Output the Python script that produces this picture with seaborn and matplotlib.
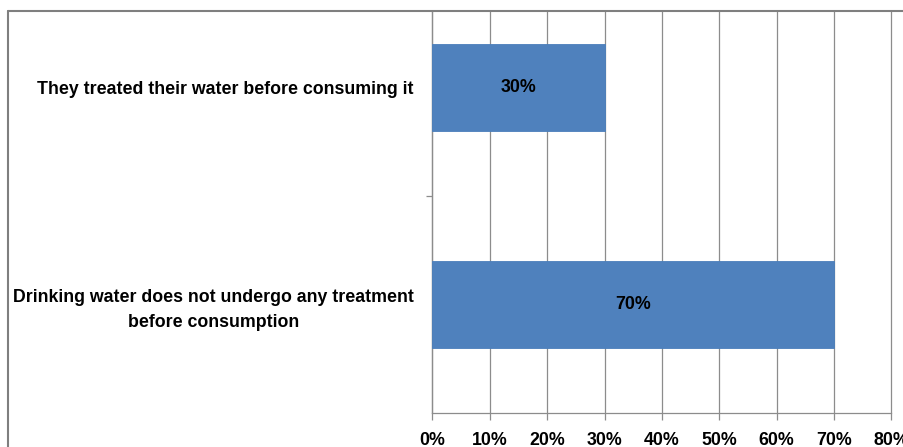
import matplotlib
matplotlib.use("Agg")
import matplotlib.pyplot as plt
from matplotlib.lines import Line2D
from matplotlib.ticker import FixedLocator, FuncFormatter
import seaborn as sns
import pandas as pd

categories = [
    "They treated their water before consuming it",
    "Drinking water does not undergo any treatment\nbefore consumption",
]
shares = [30, 70]
x_ticks = [0, 10, 20, 30, 40, 50, 60, 70, 80]

W, H = 904, 447
DPI = 100
BLUE = "#4F81BD"
GRID = "#8C8C8C"
FS = 12.8

sns.set_theme(style="white")
plt.rcParams["font.family"] = ["Liberation Sans Narrow", "Liberation Sans", "DejaVu Sans"]
plt.rcParams["font.weight"] = "bold"
plt.rcParams["text.color"] = "black"
plt.rcParams["xtick.color"] = "black"
plt.rcParams["ytick.color"] = "black"

fig = plt.figure(figsize=(W / DPI, H / DPI), dpi=DPI)
# axes box in pixel coordinates (left, bottom from top, right, top from top)
x0, x1 = 432.5, 891.3
y_top, y_bot = 11, 413
ax = fig.add_axes([x0 / W, (H - y_bot) / H, (x1 - x0) / W, (y_bot - y_top) / H])

df = pd.DataFrame({"category": categories, "share": shares})
sns.barplot(data=df, y="category", x="share", orient="h", color=BLUE,
            saturation=1, width=0.4, ax=ax, zorder=3,
            edgecolor="#4A7EBB", linewidth=0.6)

ax.set_xlim(0, 80)
ax.set_ylim(1.5, 1.5 - (y_bot - y_top) / 217.0)
ax.xaxis.set_major_locator(FixedLocator(x_ticks))
ax.xaxis.set_major_formatter(FuncFormatter(lambda v, p: f"{v:.0f}%"))
ax.grid(axis="x", color=GRID, linewidth=0.9, zorder=0)
ax.set_axisbelow(True)
for gl in ax.get_xgridlines():
    gl.set_clip_on(False)

for s in ["top", "right"]:
    ax.spines[s].set_visible(False)
for s in ["left", "bottom"]:
    ax.spines[s].set_color(GRID)
    ax.spines[s].set_linewidth(0.9)

ax.tick_params(axis="x", which="major", direction="out", length=5, width=0.9,
               color=GRID, labelcolor="black", labelsize=FS, pad=9, bottom=True)
ax.tick_params(axis="y", which="major", length=0, labelsize=FS, labelcolor="black", pad=13.5)
ax.yaxis.set_minor_locator(FixedLocator([0.5]))
ax.tick_params(axis="y", which="minor", direction="out", length=4.5, width=0.9,
               color=GRID, left=True)
for lbl in ax.get_yticklabels():
    lbl.set_multialignment("center")
    lbl.set_fontweight("bold")
    lbl.set_linespacing(1.6)
for lbl in ax.get_xticklabels():
    lbl.set_fontweight("bold")

ax.set_xlabel("")
ax.set_ylabel("")

for container in ax.containers:
    ax.bar_label(container, labels=[f"{v}%" for v in shares], label_type="center",
                 fontsize=FS, fontweight="bold", color="black")

# outer chart frame (top and left edges visible)
fig.add_artist(Line2D([7.5 / W, 1.0], [(H - 10.5) / H] * 2, transform=fig.transFigure,
                      color="#7F7F7F", linewidth=1.5))
fig.add_artist(Line2D([7.5 / W] * 2, [(H - 10.5) / H, 0.0], transform=fig.transFigure,
                      color="#7F7F7F", linewidth=1.5))

fig.savefig("out.png", dpi=DPI)
